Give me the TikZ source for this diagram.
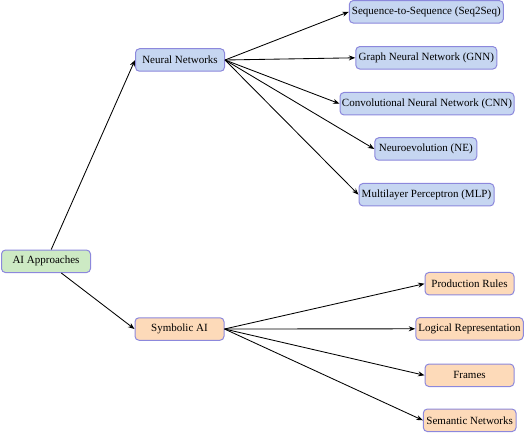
\documentclass[tikz,border=0pt]{standalone}
\usepackage{fontspec}
\setmainfont{Liberation Serif}
\usetikzlibrary{arrows.meta}
\definecolor{bluefill}{HTML}{C6D6F1}
\definecolor{greenfill}{HTML}{CDEAC4}
\definecolor{orangefill}{HTML}{FDDAB9}
\definecolor{boxline}{HTML}{8C88DC}
\tikzset{
  box/.style={draw=boxline, line width=1pt, rounded corners=4pt, minimum height=22.5pt, inner sep=0pt, font=\fontsize{11}{12}\selectfont},
  bluebox/.style={box, fill=bluefill},
  greenbox/.style={box, fill=greenfill},
  orangebox/.style={box, fill=orangefill},
  conn/.style={-{Stealth[length=6.5pt,width=5pt]}, line width=0.85pt, black}
}
\begin{document}
\begin{tikzpicture}[x=1pt,y=-1pt]
\useasboundingbox (0,0) rectangle (525,433);
\node[greenbox, minimum width=89pt] (root) at (46,261.3) {AI Approaches};
\node[bluebox, minimum width=89pt] (nn) at (180,60) {Neural Networks};
\node[orangebox, minimum width=89pt] (sym) at (179.5,329) {Symbolic AI};
\node[bluebox, minimum width=154pt] (seq) at (426.3,11.8) {Sequence-to-Sequence (Seq2Seq)};
\node[bluebox, minimum width=141pt] (gnn) at (426.3,57.8) {Graph Neural Network (GNN)};
\node[bluebox, minimum width=174pt] (cnn) at (427,103.7) {Convolutional Neural Network (CNN)};
\node[bluebox, minimum width=102pt] (ne) at (425.8,149) {Neuroevolution (NE)};
\node[bluebox, minimum width=135pt] (mlp) at (426.5,194.7) {Multilayer Perceptron (MLP)};
\node[orangebox, minimum width=89pt] (pr) at (469.5,283.7) {Production Rules};
\node[orangebox, minimum width=107.5pt] (lr) at (469.5,328.8) {Logical Representation};
\node[orangebox, minimum width=89pt] (fr) at (469.5,375.3) {Frames};
\node[orangebox, minimum width=92.7pt] (sn) at (469.7,420.3) {Semantic Networks};
\draw[conn] (root) -- (nn.west);
\draw[conn] (root) -- (sym.west);
\foreach \c in {seq,gnn,cnn,ne,mlp} \draw[conn] (nn.east) -- (\c.west);
\foreach \c in {pr,lr,fr,sn} \draw[conn] (sym.east) -- (\c.west);
\end{tikzpicture}
\end{document}
